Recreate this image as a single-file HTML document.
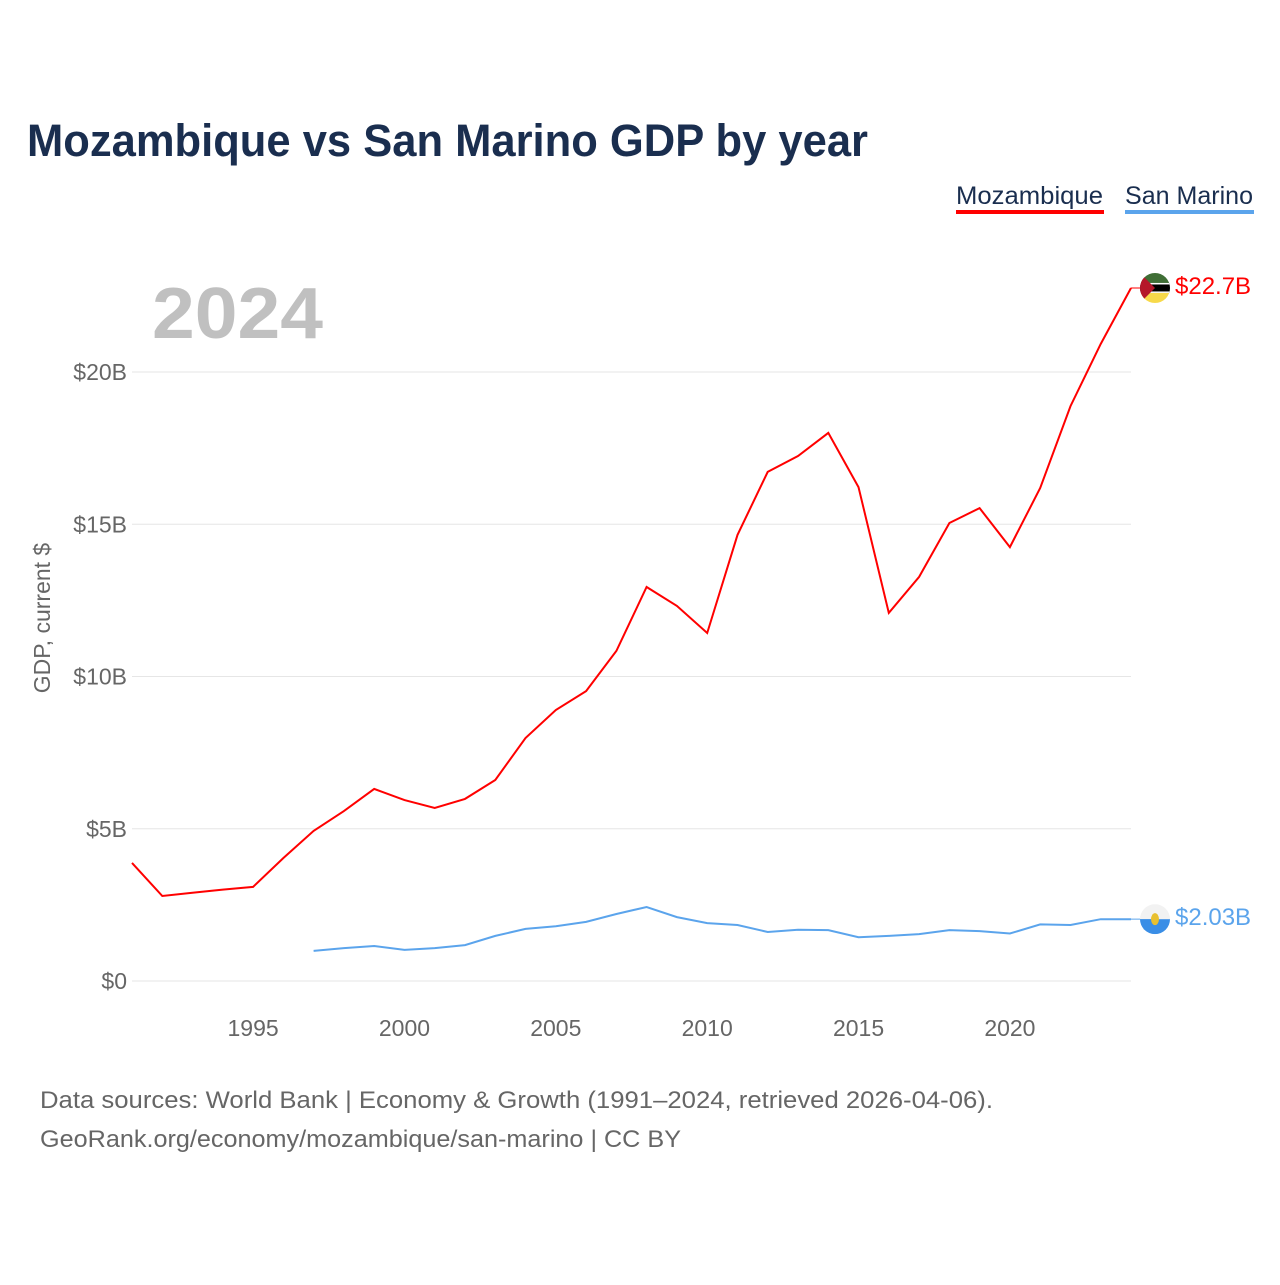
<!DOCTYPE html>
<html><head><meta charset="utf-8"><style>
body{margin:0;background:#fff;font-family:"Liberation Sans",sans-serif}
svg text{font-family:"Liberation Sans",sans-serif}
</style></head><body>
<svg width="1280" height="1280" xmlns="http://www.w3.org/2000/svg" id="chart">
<text x="27" y="156" font-size="45" font-weight="bold" fill="#1a2e4f" textLength="841" lengthAdjust="spacingAndGlyphs">Mozambique vs San Marino GDP by year</text>
<g>
<text x="956" y="204" font-size="25" fill="#1a2e4f" textLength="147" lengthAdjust="spacingAndGlyphs">Mozambique</text>
<rect x="956" y="210" width="148" height="4" fill="#ff0000"/>
<text x="1125" y="204" font-size="25" fill="#1a2e4f" textLength="128" lengthAdjust="spacingAndGlyphs">San Marino</text>
<rect x="1125" y="210" width="129" height="4" fill="#5ba4ec"/>
</g>
<text x="152" y="338" font-size="72" font-weight="bold" fill="#c0c0c0" textLength="171" lengthAdjust="spacingAndGlyphs">2024</text>
<text transform="translate(50,618) rotate(-90)" text-anchor="middle" font-size="23" fill="#666">GDP, current $</text>
<g id="grid"></g><g id="xt"></g><g id="lines"></g>
<text x="40" y="1108" font-size="24" fill="#666" textLength="953" lengthAdjust="spacingAndGlyphs">Data sources: World Bank | Economy &amp; Growth (1991–2024, retrieved 2026-04-06).</text>
<text x="40" y="1147" font-size="24" fill="#666" textLength="641" lengthAdjust="spacingAndGlyphs">GeoRank.org/economy/mozambique/san-marino | CC BY</text>
</svg>
<script>
const yTicks=[0,5,10,15,20];
const yTickLabels=["$0","$5B","$10B","$15B","$20B"];
const xTicks=[1995,2000,2005,2010,2015,2020];
const mozYears=[1991,1992,1993,1994,1995,1996,1997,1998,1999,2000,2001,2002,2003,2004,2005,2006,2007,2008,2009,2010,2011,2012,2013,2014,2015,2016,2017,2018,2019,2020,2021,2022,2023,2024];
const mozValues=[3.88,2.79,2.9,3.0,3.09,4.04,4.93,5.58,6.31,5.94,5.68,5.98,6.6,7.98,8.9,9.52,10.84,12.94,12.32,11.43,14.65,16.72,17.24,18.0,16.22,12.09,13.27,15.04,15.53,14.25,16.19,18.88,20.92,22.76];
const smYears=[1997,1998,1999,2000,2001,2002,2003,2004,2005,2006,2007,2008,2009,2010,2011,2012,2013,2014,2015,2016,2017,2018,2019,2020,2021,2022,2023,2024];
const smValues=[0.99,1.08,1.15,1.02,1.08,1.18,1.48,1.71,1.8,1.94,2.2,2.43,2.1,1.9,1.84,1.61,1.68,1.67,1.44,1.48,1.54,1.67,1.64,1.56,1.86,1.84,2.03,2.03];
const NS="http://www.w3.org/2000/svg";
const X=y=>132+(y-1991)*(1131-132)/33;
const Y=v=>981-v*30.45;
function mk(t,a,p){const e=document.createElementNS(NS,t);for(const k in a)e.setAttribute(k,a[k]);p.appendChild(e);return e;}
const grid=document.getElementById('grid');
yTicks.forEach((v,i)=>{
 const l=mk('line',{x1:132,x2:1131,y1:Y(v),y2:Y(v),stroke:'#e6e6e6','stroke-width':1},grid);
 
 
 const t=mk('text',{x:127,y:Y(v)+8,'text-anchor':'end','font-size':23,fill:'#666'},grid);
 t.textContent=yTickLabels[i];
 
 
});
const xt=document.getElementById('xt');
xTicks.forEach(y=>{
 const t=mk('text',{x:X(y),y:1036,'text-anchor':'middle','font-size':23,fill:'#666'},xt);
 t.textContent=y;
 
 
});
const g=document.getElementById('lines');
function series(years,vals,color,name,label,flag){
 const d=years.map((y,i)=>(i?'L':'M')+X(y).toFixed(1)+','+Y(vals[i]).toFixed(1)).join('');
 const p=mk('path',{d:d,fill:'none',stroke:color,'stroke-width':2},g);
 
 
 const ly=Y(vals[vals.length-1]);
 const c=mk('line',{x1:X(years[years.length-1]),x2:1155,y1:ly,y2:ly,stroke:color,'stroke-width':1},g);
 
 
 const fg=mk('g',{},g);
 
 
 flag(fg,1155,ly);
 const t=mk('text',{x:1175,y:ly+6,'font-size':24,fill:color},g);
 t.textContent=label;
 
 
}
function mozFlag(p,cx,cy){
 const cp=mk('clipPath',{id:'cm'},p);mk('circle',{cx:cx,cy:cy,r:15},cp);
 const q=mk('g',{'clip-path':'url(#cm)'},p);
 mk('rect',{x:cx-15,y:cy-15,width:30,height:10,fill:'#3f6e35'},q);
 mk('rect',{x:cx-15,y:cy-5,width:30,height:10,fill:'#000'},q);
 mk('rect',{x:cx-15,y:cy-5,width:30,height:1.5,fill:'#fff'},q);
 mk('rect',{x:cx-15,y:cy+3.5,width:30,height:1.5,fill:'#fff'},q);
 mk('rect',{x:cx-15,y:cy+5,width:30,height:10,fill:'#f7d94a'},q);
 mk('polygon',{points:(cx-15)+','+(cy-15)+' '+(cx)+','+cy+' '+(cx-15)+','+(cy+15),fill:'#b5172a'},q);
}
function smFlag(p,cx,cy){
 const cp=mk('clipPath',{id:'cs'},p);mk('circle',{cx:cx,cy:cy,r:15},cp);
 const q=mk('g',{'clip-path':'url(#cs)'},p);
 mk('rect',{x:cx-15,y:cy-15,width:30,height:15,fill:'#f2f2f2'},q);
 mk('rect',{x:cx-15,y:cy,width:30,height:15,fill:'#3a8ee6'},q);
 mk('ellipse',{cx:cx,cy:cy,rx:4,ry:6,fill:'#e8c030'},q);
}
series(mozYears,mozValues,'#ff0000','mozambique','$22.7B',mozFlag);
series(smYears,smValues,'#5ba4ec','san-marino','$2.03B',smFlag);
</script>
</body></html>
